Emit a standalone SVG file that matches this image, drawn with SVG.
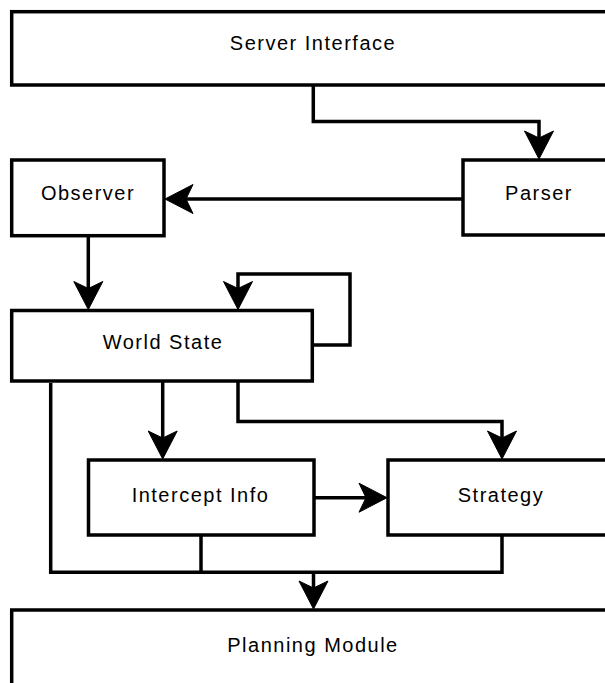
<svg xmlns="http://www.w3.org/2000/svg" width="605" height="683" viewBox="0 0 605 683">
  <style>
    .box { fill: #ffffff; stroke: #000000; stroke-width: 3.5; }
    .label { font-family: "Liberation Sans", Arial, sans-serif; font-size: 20px; letter-spacing: 1.5px; fill: #000000; text-anchor: middle; }
    .wire { fill: none; stroke: #000000; stroke-width: 3.5; stroke-linejoin: miter; }
    .arrow { marker-end: url(#head); }
  </style>
  <defs>
    <!-- classic notched arrowhead in user units; origin sits inside the head, tip lies 16px ahead -->
    <marker id="head" markerUnits="userSpaceOnUse" markerWidth="40" markerHeight="40" refX="0" refY="0" orient="auto" overflow="visible">
      <path d="M16,0 L-12,-14.5 L-5,0 L-12,14.5 Z" fill="#000000" stroke="#000000" stroke-width="1" stroke-linejoin="miter"/>
    </marker>
  </defs>

  <rect width="605" height="683" fill="#ffffff"/>

  <g id="connectors">
    <!-- Server Interface -> Parser -->
    <path class="wire arrow" d="M313.3,85 V121.5 H539 V143"/>
    <!-- Parser -> Observer -->
    <path class="wire arrow" d="M463,199 H181"/>
    <!-- Observer -> World State -->
    <path class="wire arrow" d="M88.3,235.7 V293.5"/>
    <!-- World State feedback loop -->
    <path class="wire arrow" d="M312.3,345 H350 V274 H238 V293.5"/>
    <!-- World State -> Intercept Info -->
    <path class="wire arrow" d="M162.7,381 V443"/>
    <!-- World State -> Strategy -->
    <path class="wire arrow" d="M238,381 V421.5 H502 V443"/>
    <!-- Intercept Info -> Strategy -->
    <path class="wire arrow" d="M314,497.7 H371"/>
    <!-- merge into Planning Module -->
    <path class="wire" d="M50.7,383 V572.3 H502 V535"/>
    <path class="wire" d="M201,535 V572.3"/>
    <path class="wire arrow" d="M313.5,572.3 V593"/>
  </g>

  <g id="server-interface">
    <rect class="box" x="11.7" y="11.7" width="700" height="73.3"/>
    <text class="label" x="313" y="50">Server Interface</text>
  </g>
  <g id="observer">
    <rect class="box" x="11.7" y="160" width="152.3" height="75.7"/>
    <text class="label" x="88" y="200">Observer</text>
  </g>
  <g id="parser">
    <rect class="box" x="463" y="160" width="300" height="75"/>
    <text class="label" x="539" y="200">Parser</text>
  </g>
  <g id="world-state">
    <rect class="box" x="11.7" y="310.5" width="300.6" height="70.5"/>
    <text class="label" x="163" y="349">World State</text>
  </g>
  <g id="intercept-info">
    <rect class="box" x="88.5" y="460" width="225.5" height="75"/>
    <text class="label" x="200.5" y="501.7">Intercept Info</text>
  </g>
  <g id="strategy">
    <rect class="box" x="388" y="460" width="300" height="75"/>
    <text class="label" x="501" y="501.7">Strategy</text>
  </g>
  <g id="planning-module">
    <rect class="box" x="11.7" y="610" width="700" height="150"/>
    <text class="label" x="313" y="651.7">Planning Module</text>
  </g>
</svg>
